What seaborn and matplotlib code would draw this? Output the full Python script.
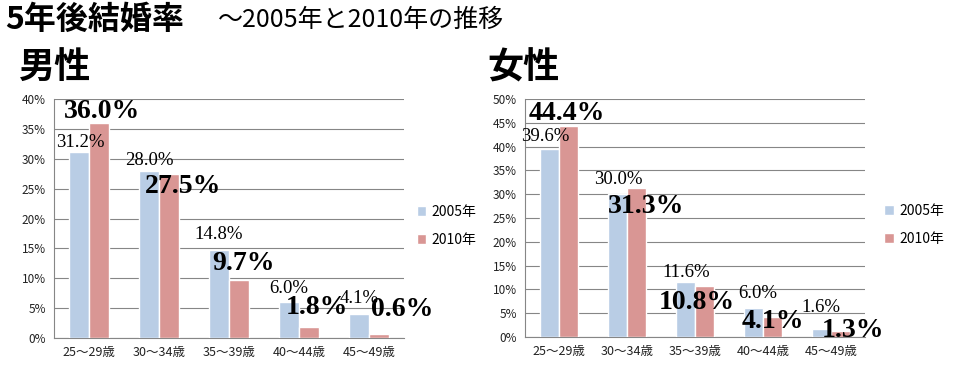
import pandas as pd
import matplotlib.pyplot as plt
from matplotlib.ticker import FuncFormatter, FixedLocator
import seaborn as sns

age_groups = ["25～29歳", "30～34歳", "35～39歳", "40～44歳", "45～49歳"]
years = ["2005年", "2010年"]
male_2005 = [31.2, 28.0, 14.8, 6.0, 4.1]
male_2010 = [36.0, 27.5, 9.7, 1.8, 0.6]
female_2005 = [39.6, 30.0, 11.6, 6.0, 1.6]
female_2010 = [44.4, 31.3, 10.8, 4.1, 1.3]

# hand-placed label offsets (points), like the Excel original
male_off_05 = [(1, 6.5), (0, 7), (0, 11), (0, 10), (0, 10.5)]
male_off_10 = [(2, 8.5), (10, -9), (3, 12), (6, 14), (17, 18)]
female_off_05 = [(-3, 9), (1, 10.5), (1, 7), (3, 10.5), (0, 16)]
female_off_10 = [(-1, 9), (7, -13), (-6, -12), (0, -3), (9, 0)]


def to_long(v05, v10):
    return pd.DataFrame({
        "age": age_groups * 2,
        "year": [years[0]] * 5 + [years[1]] * 5,
        "rate": v05 + v10,
    })


sns.set_style("white")
plt.rcParams["font.family"] = ["Noto Sans CJK JP", "DejaVu Sans"]
plt.rcParams["text.color"] = "black"
plt.rcParams["xtick.color"] = "black"
plt.rcParams["ytick.color"] = "black"

fig = plt.figure(figsize=(9.56, 3.70), dpi=100)
ax_m = fig.add_axes([54 / 956, 32 / 370, 350 / 956, 239 / 370])
ax_f = fig.add_axes([525 / 956, 33 / 370, 340 / 956, 238 / 370])

palette = {"2005年": "#b9cde5", "2010年": "#d99694"}


def draw(ax, v05, v10, ymax, off05, off10, leg_x):
    df = to_long(v05, v10)
    sns.barplot(data=df, x="age", y="rate", hue="year", order=age_groups,
                hue_order=years, palette=palette, width=0.57, saturation=1,
                ax=ax, zorder=3)
    ax.set_xlim(-0.5, 4.5)
    ax.set_ylim(0, ymax)
    ax.set_yticks(range(0, ymax + 1, 5))
    ax.yaxis.set_major_formatter(FuncFormatter(lambda v, p: f"{v:.0f}%"))
    ax.grid(axis="y", color="#868686", linewidth=0.8, zorder=0)
    ax.set_axisbelow(True)
    for s in ["top", "right"]:
        ax.spines[s].set_visible(False)
    for s in ["left", "bottom"]:
        ax.spines[s].set_color("#868686")
    ax.tick_params(axis="y", labelsize=8.5, length=3, color="#868686", pad=3,
                   labelcolor="#222222")
    ax.tick_params(axis="x", which="major", labelsize=9, length=0, pad=6,
                   labelcolor="#222222")
    ax.xaxis.set_minor_locator(FixedLocator([-0.5, 0.5, 1.5, 2.5, 3.5, 4.5]))
    ax.tick_params(axis="x", which="minor", length=4, color="#868686")
    ax.set_xlabel("")
    ax.set_ylabel("")

    for bar, val, off in zip(ax.containers[0], v05, off05):
        ax.annotate(f"{val:.1f}%", (bar.get_x() + bar.get_width() / 2, bar.get_height()),
                    xytext=off, textcoords="offset points", ha="center", va="center",
                    fontsize=13.5, family="Liberation Serif", zorder=5)
    for bar, val, off in zip(ax.containers[1], v10, off10):
        ax.annotate(f"{val:.1f}%", (bar.get_x() + bar.get_width() / 2, bar.get_height()),
                    xytext=off, textcoords="offset points", ha="center", va="center",
                    fontsize=20, fontweight="bold", family="Liberation Serif", zorder=5)

    ax.legend(loc="center left", bbox_to_anchor=(leg_x, 0.47), frameon=False,
              fontsize=10, handlelength=0.7, handleheight=0.7, labelspacing=1.0,
              handletextpad=0.4)


draw(ax_m, male_2005, male_2010, 40, male_off_05, male_off_10, 1.0)
draw(ax_f, female_2005, female_2010, 50, female_off_05, female_off_10, 1.02)

fig.text(5 / 956, 1 - 20 / 370, "5年後結婚率", fontsize=23, fontweight="bold", va="center")
fig.text(218 / 956, 1 - 20 / 370, "～2005年と2010年の推移", fontsize=18, va="center")
fig.text(18 / 956, 1 - 68 / 370, "男性", fontsize=26, fontweight="bold", va="center")
fig.text(487 / 956, 1 - 68 / 370, "女性", fontsize=26, fontweight="bold", va="center")

fig.savefig("out.png", dpi=100)
